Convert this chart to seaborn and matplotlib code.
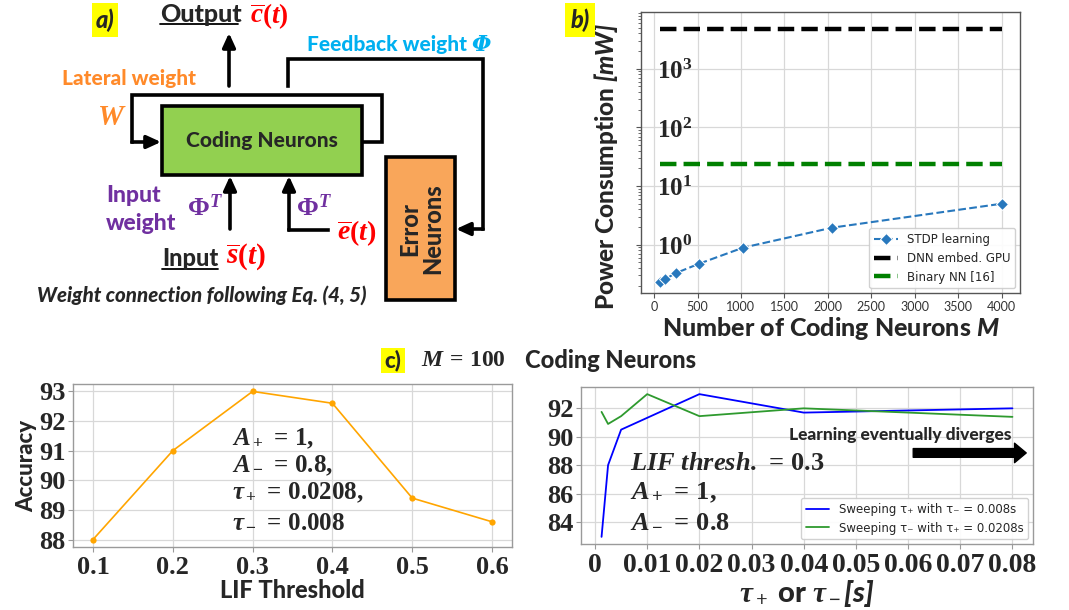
import numpy as np
import pandas as pd
import matplotlib
matplotlib.use("Agg")
import matplotlib.pyplot as plt
import seaborn as sns
from matplotlib.patches import Rectangle
from matplotlib.ticker import FuncFormatter

# ---------------- data ----------------
neurons_M = [64, 128, 256, 512, 1024, 2048, 4000]
stdp_power_mW = [0.23, 0.26, 0.33, 0.47, 0.89, 1.95, 5.0]
gpu_power_mW = 4800.0
bnn_power_mW = 23.7
b_xticks = [0, 500, 1000, 1500, 2000, 2500, 3000, 3500, 4000]
b_yticks = [1, 10, 100, 1000]

lif_threshold = [0.1, 0.2, 0.3, 0.4, 0.5, 0.6]
lif_accuracy = [88.0, 91.0, 93.0, 92.6, 89.4, 88.6]
cl_yticks = [88, 89, 90, 91, 92, 93]

tau_plus_sweep = [0.00125, 0.0025, 0.005, 0.02, 0.04, 0.08]
acc_tau_plus = [82.95, 88.0, 90.5, 93.0, 91.7, 92.0]
tau_minus_sweep = [0.00125, 0.0025, 0.005, 0.01, 0.02, 0.04, 0.08]
acc_tau_minus = [91.75, 90.9, 91.45, 93.0, 91.45, 92.0, 91.4]
cr_xticks = [0, 0.01, 0.02, 0.03, 0.04, 0.05, 0.06, 0.07, 0.08]
cr_xticklabels = ["0", "0.01", "0.02", "0.03", "0.04", "0.05", "0.06", "0.07", "0.08"]
cr_yticks = [84, 86, 88, 90, 92]

# ---------------- style ----------------
sns.set_theme(style="whitegrid")
plt.rcParams["font.family"] = ["Lato", "DejaVu Sans"]
plt.rcParams["mathtext.fontset"] = "custom"
plt.rcParams["mathtext.rm"] = "Liberation Serif:bold"
plt.rcParams["mathtext.it"] = "Liberation Serif:italic:bold"
plt.rcParams["mathtext.bf"] = "Liberation Serif:bold"
plt.rcParams["mathtext.sf"] = "Lato:italic:black"

SERIF = "Liberation Serif"
HEAVY = "black"
W, H = 1069, 610
fig = plt.figure(figsize=(W / 100, H / 100), dpi=100)


def box(x0, y0, x1, y1):
    return [x0 / W, 1 - y1 / H, (x1 - x0) / W, (y1 - y0) / H]


def style_axes(ax, spine_color="#9a9a9a"):
    for s in ax.spines.values():
        s.set_visible(True)
        s.set_color(spine_color)
        s.set_linewidth(1.0)
    ax.grid(True, color="#d8d8d8", linewidth=0.9)
    ax.tick_params(length=3.5, width=0.8, color=spine_color, bottom=True, left=True)


# ---------------- (a) diagram ----------------
axd = fig.add_axes(box(0, 0, 530, 320))
axd.set_xlim(0, 530)
axd.set_ylim(320, 0)
axd.axis("off")

LW = 2.6
def poly(pts):
    xs = [p[0] for p in pts]
    ys = [p[1] for p in pts]
    axd.plot(xs[:-1], ys[:-1], color="black", lw=LW, solid_capstyle="projecting",
             solid_joinstyle="miter")
    axd.annotate("", xy=pts[-1], xytext=pts[-2],
                 arrowprops=dict(arrowstyle="-|>,head_width=0.32,head_length=0.7",
                                 lw=LW, color="black", shrinkA=0, shrinkB=0))

axd.add_patch(Rectangle((92, 3), 26, 34, fc="#FFFF00", ec="none"))
axd.text(105, 20, "a)", ha="center", va="center", fontsize=17, fontweight=HEAVY, style="italic")

axd.text(160, 14, "Output", ha="left", va="center", fontsize=18, fontweight=HEAVY)
axd.plot([160, 238], [24, 24], color="black", lw=1.3)
axd.text(250, 16, r"$\overline{c}(t)$", ha="left", va="center", fontsize=19.5, color="#FF0000")

poly([(229, 86), (229, 33)])

axd.text(307, 45, "Feedback weight", ha="left", va="center",
         fontsize=15, fontweight=HEAVY, color="#00B0F0")
axd.text(472, 45, "Φ", ha="left", va="center", fontsize=16, family="DejaVu Serif",
         fontweight="bold", style="italic", color="#00B0F0")
poly([(288, 86), (288, 59), (483, 59), (483, 229), (456, 229)])

axd.text(62, 78, "Lateral weight", ha="left", va="center", fontsize=15,
         fontweight=HEAVY, color="#FF8A2A")
axd.text(97, 117, r"$W$", ha="left", va="center", fontsize=21, color="#FF8A2A")
poly([(362, 142), (382, 142), (382, 95), (132, 95), (132, 142), (161, 142)])

axd.add_patch(Rectangle((162, 106), 200, 69, fc="#92D050", ec="black", lw=2.6, zorder=3))
axd.text(262, 141, "Coding Neurons", ha="center", va="center", fontsize=15,
         fontweight=HEAVY, zorder=4)

poly([(230, 229), (230, 176)])
poly([(328, 230), (289, 230), (289, 176)])

axd.text(106, 195, "Input", ha="left", va="center", fontsize=16.5, fontweight=HEAVY, color="#7030A0")
axd.text(106, 223, "weight", ha="left", va="center", fontsize=16.5, fontweight=HEAVY, color="#7030A0")
axd.text(187, 208, r"$\Phi^T$", ha="left", va="center", fontsize=19, color="#7030A0")
axd.text(296, 208, r"$\Phi^T$", ha="left", va="center", fontsize=19, color="#7030A0")
axd.text(337, 233, r"$\overline{e}(t)$", ha="left", va="center", fontsize=20, color="#FF0000")

axd.text(162, 258, "Input", ha="left", va="center", fontsize=17, fontweight=HEAVY)
axd.plot([162, 218], [269, 269], color="black", lw=1.3)
axd.text(226, 257, r"$\overline{s}(t)$", ha="left", va="center", fontsize=21, color="#FF0000")

axd.text(37, 295, "Weight connection following Eq. (4, 5)", ha="left", va="center",
         fontsize=14.8, fontweight=HEAVY, style="italic")

axd.add_patch(Rectangle((386, 157), 69, 143, fc="#F9A65A", ec="black", lw=2.6, zorder=3))
axd.text(421, 229, "Error\nNeurons", ha="center", va="center", rotation=90, fontsize=17,
         fontweight=HEAVY, linespacing=1.0, zorder=4)

# ---------------- (b) power ----------------
axb = fig.add_axes(box(641, 12, 1020, 293))
style_axes(axb, "#555555")
sns.lineplot(x=neurons_M, y=stdp_power_mW, ax=axb, color="#2878BD", marker="D",
             markersize=6, linestyle="--", lw=1.5, label="STDP learning")
sns.lineplot(x=[neurons_M[0], neurons_M[-1]], y=[gpu_power_mW, gpu_power_mW], ax=axb,
             color="black", linestyle="--", lw=3.2, label="DNN embed. GPU")
sns.lineplot(x=[neurons_M[0], neurons_M[-1]], y=[bnn_power_mW, bnn_power_mW], ax=axb,
             color="green", linestyle="--", lw=3.2, label="Binary NN [16]")
axb.set_yscale("log")
axb.set_xlim(-150, 4210)
axb.set_ylim(0.15, 9300)
axb.set_xticks(b_xticks)
axb.tick_params(axis="x", labelsize=9, labelcolor="#333333", pad=2)
axb.set_yticks(b_yticks)
axb.yaxis.set_major_formatter(FuncFormatter(lambda v, p: r"$10^{%d}$" % round(np.log10(v))))
axb.tick_params(axis="y", which="major", labelsize=18, pad=-15)
axb.tick_params(axis="y", which="minor", length=2, width=0.6, color="#555555", left=True)
for lab in axb.get_yticklabels():
    lab.set_horizontalalignment("left")
axb.yaxis.grid(False, which="minor")
axb.set_xlabel(r"Number of Coding Neurons $\mathsf{M}$", fontsize=18, fontweight=HEAVY, labelpad=2)
axb.set_ylabel(r"Power Consumption $\mathsf{[mW]}$", fontsize=17.5, fontweight=HEAVY)
axb.yaxis.set_label_coords(-0.055, 0.45)
axb.legend(loc="lower right", frameon=True, framealpha=0.9,
           prop={"family": "DejaVu Sans", "size": 8.5}, borderaxespad=0.4)
fig.add_artist(Rectangle((565 / W, 1 - 37 / H), 30 / W, 34 / H, transform=fig.transFigure,
                         fc="#FFFF00", ec="none"))
fig.text(580 / W, 1 - 20 / H, "b)", ha="center", va="center", fontsize=17,
         fontweight=HEAVY, style="italic")

# ---------------- (c) title ----------------
fig.add_artist(Rectangle((381 / W, 1 - 373 / H), 24 / W, 25 / H, transform=fig.transFigure,
                         fc="#FFFF00", ec="none"))
fig.text(393 / W, 1 - 360 / H, "c)", ha="center", va="center", fontsize=16, fontweight=HEAVY)
fig.text(421 / W, 1 - 360 / H, r"$M\,=\,\mathrm{100}$", ha="left", va="center", fontsize=17)
fig.text(525 / W, 1 - 360 / H, "Coding Neurons", ha="left", va="center", fontsize=17,
         fontweight=HEAVY)

# ---------------- (c) left ----------------
axl = fig.add_axes(box(73, 384, 512, 547))
style_axes(axl, "#9a9a9a")
sns.lineplot(x=lif_threshold, y=lif_accuracy, ax=axl, color="#FFA500", marker="o",
             markersize=4.5, markeredgewidth=0, lw=1.2)
axl.set_xticks(lif_threshold)
axl.set_yticks(cl_yticks)
for lab in axl.get_xticklabels() + axl.get_yticklabels():
    lab.set_fontfamily(SERIF)
    lab.set_fontweight("bold")
    lab.set_fontsize(19)
axl.tick_params(axis="y", pad=2)
axl.tick_params(axis="x", pad=3)
axl.set_xlabel("LIF Threshold", fontsize=17, fontweight=HEAVY, labelpad=0)
axl.set_ylabel("Accuracy", fontsize=16, fontweight=HEAVY, labelpad=1)
for i, s in enumerate([r"$A_+\,=\,\mathrm{1,}$", r"$A_-\,=\,\mathrm{0.8,}$",
                       r"$\tau_+\,=\,\mathrm{0.0208,}$", r"$\tau_-\,=\,\mathrm{0.008}$"]):
    axl.text(0.362, [0.663, 0.499, 0.331, 0.166][i], s, transform=axl.transAxes,
             ha="left", va="center", fontsize=18)

# ---------------- (c) right ----------------
axr = fig.add_axes(box(581, 387, 1033, 544))
style_axes(axr, "#9a9a9a")
sns.lineplot(x=tau_plus_sweep, y=acc_tau_plus, ax=axr, color="blue", lw=1.3,
             label="Sweeping τ₊ with τ₋ = 0.008s")
sns.lineplot(x=tau_minus_sweep, y=acc_tau_minus, ax=axr, color="#2E9A2E", lw=1.3,
             label="Sweeping τ₋ with τ₊ = 0.0208s")
axr.set_xticks(cr_xticks)
axr.set_xticklabels(cr_xticklabels)
axr.set_yticks(cr_yticks)
for lab in axr.get_xticklabels():
    lab.set_fontfamily(SERIF)
    lab.set_fontweight("bold")
    lab.set_fontsize(20)
for lab in axr.get_yticklabels():
    lab.set_fontfamily(SERIF)
    lab.set_fontweight("bold")
    lab.set_fontsize(19)
axr.tick_params(axis="y", pad=2)
axr.tick_params(axis="x", pad=3)
axr.set_xlabel(r"$\tau_+$ or $\tau_-$$\mathsf{[s]}$", fontsize=21, fontweight=HEAVY, labelpad=0)
axr.legend(loc="lower right", prop={"family": "DejaVu Sans", "size": 8.5}, frameon=True,
           framealpha=0.9, borderaxespad=0.4)
for i, s in enumerate([r"$LIF\ thresh.\,=\,\mathrm{0.3}$", r"$A_+\,=\,\mathrm{1,}$",
                       r"$A_-\,=\,\mathrm{0.8}$"]):
    axr.text(0.108, [0.516, 0.331, 0.153][i], s, transform=axr.transAxes,
             ha="left", va="center", fontsize=19)
axr.text(0.706, 0.694, "Learning eventually diverges", transform=axr.transAxes,
         ha="center", va="center", fontsize=12.5, fontweight=HEAVY)
axr.annotate("", xy=(0.985, 0.58), xytext=(0.735, 0.58), xycoords="axes fraction",
             arrowprops=dict(arrowstyle="simple,head_width=1.0,head_length=0.6,tail_width=0.45",
                             mutation_scale=14, color="black", shrinkA=0, shrinkB=0))

fig.savefig("out.png", dpi=100)
